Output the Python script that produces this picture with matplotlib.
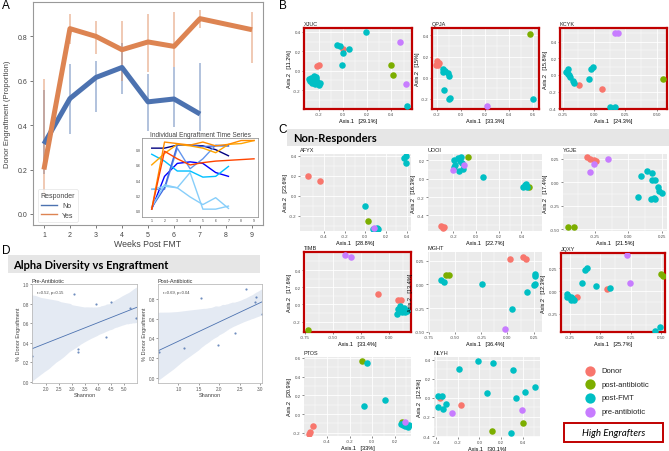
import matplotlib
matplotlib.use("Agg")
import matplotlib.pyplot as plt
from matplotlib.patches import Rectangle
from matplotlib.lines import Line2D
import numpy as np
import seaborn as sns

W, H = 669, 452
plt.rcParams['font.family'] = ['Liberation Sans', 'DejaVu Sans']

# ---- panel A: mean engraftment per responder group
weeks_no = [1, 2, 3, 4, 5, 6, 7]
eng_no = [0.315, 0.52, 0.615, 0.66, 0.505, 0.518, 0.45]
lo_no = [0.18, 0.36, 0.46, 0.54, 0.375, 0.39, 0.375]
hi_no = [0.56, 0.675, 0.69, 0.77, 0.63, 0.66, 0.68]
weeks_yes = [1, 2, 3, 4, 5, 6, 7, 9]
eng_yes = [0.20, 0.835, 0.80, 0.74, 0.775, 0.755, 0.88, 0.83]
lo_yes = [0.08, 0.765, 0.72, 0.60, 0.64, 0.66, 0.84, 0.68]
hi_yes = [0.61, 0.90, 0.87, 0.87, 0.90, 0.91, 0.92, 0.91]

# inset: individual time series (color, weeks, values)
ind_colors = ['navy', 'blue', 'deepskyblue', 'cornflowerblue', 'royalblue',
              'lightskyblue', 'lightskyblue', 'orange', 'darkorange', 'orangered']
ind_weeks = [[1, 2, 3, 4, 5, 6, 7], [1, 2, 3, 4, 5, 6, 7], [1, 2, 3, 4, 5, 6, 7],
             [1, 2, 3, 4, 5, 6, 7], [1, 2, 3, 4, 5, 6, 7], [1, 2, 3, 4, 5, 6, 7],
             [1, 2, 3, 4, 5, 6, 7], [1, 2, 3, 4, 5, 6, 7, 8, 9],
             [1, 2, 3, 4, 5, 6, 7, 8, 9], [1, 2, 3, 4, 5, 6, 7, 8, 9]]
ind_vals = [[0.82, 0.82, 0.86, 0.86, 0.85, 0.80, 0.72],
            [0.02, 0.45, 0.62, 0.64, 0.62, 0.50, 0.45],
            [0.74, 0.65, 0.52, 0.52, 0.44, 0.45, 0.58],
            [0.28, 0.28, 0.82, 0.55, 0.68, 0.86, 0.85],
            [0.04, 0.30, 0.86, 0.86, 0.84, 0.85, 0.85],
            [0.28, 0.32, 0.30, 0.50, 0.02, 0.02, 0.06],
            [0.05, 0.34, 0.30, 0.18, 0.08, 0.17, 0.03],
            [0.60, 0.75, 0.87, 0.85, 0.82, 0.76, 0.87, 0.88, 0.92],
            [0.02, 0.90, 0.88, 0.86, 0.90, 0.85, 0.87, 0.92, 0.92],
            [0.02, 0.78, 0.68, 0.60, 0.63, 0.65, 0.66, 0.67, 0.68]]

# ---- panel D: alpha diversity vs engraftment
pre_shannon = [1.48, 3.06, 3.25, 3.25, 3.93, 4.32, 4.50, 5.24, 5.47]
pre_eng = [0.267, 0.894, 0.337, 0.31, 0.80, 0.46, 0.817, 0.76, 0.65]
post_shannon = [0.52, 1.14, 1.55, 1.97, 2.39, 2.66, 2.87, 2.91, 3.05]
post_eng = [0.265, 0.30, 0.81, 0.33, 0.46, 0.90, 0.765, 0.82, 0.65]

# ---- panels B/C: PCoA coordinates per sample type
groups = ['Donor', 'post-antibiotic', 'post-FMT', 'pre-antibiotic']
gcol = {'Donor': '#F8766D', 'post-antibiotic': '#7CAE00',
        'post-FMT': '#00BFC4', 'pre-antibiotic': '#C77CFF'}

XJUC = {'Donor': [(-0.20, 0.06), (-0.21, 0.05), (0.0, 0.22)],
        'post-antibiotic': [(0.40, 0.06), (0.41, -0.04)],
        'post-FMT': [(-0.26, -0.08), (-0.24, -0.10), (-0.22, -0.06), (-0.21, -0.12),
                     (-0.25, -0.13), (-0.23, -0.14), (-0.20, -0.15), (-0.27, -0.11),
                     (-0.22, -0.09), (-0.19, -0.13), (-0.24, -0.05), (-0.28, -0.09),
                     (-0.05, 0.26), (0.19, 0.40), (-0.02, 0.25), (0.0, 0.18),
                     (0.05, 0.22), (-0.01, 0.06), (0.53, -0.36)],
        'pre-antibiotic': [(0.47, 0.30), (0.52, -0.14)]}
QPJA = {'Donor': [(-0.20, 0.16), (-0.19, 0.12), (-0.21, 0.12), (-0.18, 0.14)],
        'post-antibiotic': [(0.57, 0.41)],
        'post-FMT': [(-0.15, 0.08), (-0.15, 0.05), (-0.13, 0.06), (-0.11, 0.04),
                     (-0.10, 0.02), (-0.14, -0.12), (-0.10, -0.20), (-0.09, -0.19),
                     (0.60, -0.20)],
        'pre-antibiotic': [(0.215, -0.27)]}
KCYK = {'Donor': [(-0.12, -0.12), (0.06, -0.17)],
        'post-antibiotic': [(0.55, -0.05)],
        'post-FMT': [(-0.22, 0.03), (-0.21, 0.07), (-0.20, 0.0), (-0.19, -0.03),
                     (-0.17, -0.07), (-0.21, 0.01), (-0.16, -0.10), (-0.02, 0.07),
                     (-0.01, 0.09), (-0.04, -0.05), (0.13, -0.38), (0.17, -0.38)],
        'pre-antibiotic': [(0.17, 0.50), (0.19, 0.51)]}
AFYX = {'Donor': [(-0.55, 0.20), (-0.44, 0.15)],
        'post-antibiotic': [(0.03, -0.25)],
        'post-FMT': [(0.37, 0.38), (0.39, 0.40), (0.39, 0.33), (0.0, -0.10),
                     (0.07, -0.33), (0.09, -0.33), (0.11, -0.32), (0.12, -0.33),
                     (0.10, -0.34)],
        'pre-antibiotic': [(0.08, -0.32)]}
UOOI = {'Donor': [(-0.31, -0.52), (-0.29, -0.54), (-0.28, -0.53)],
        'post-antibiotic': [(-0.07, 0.24), (0.47, -0.09)],
        'post-FMT': [(-0.19, 0.20), (-0.16, 0.23), (-0.13, 0.24), (-0.14, 0.19),
                     (-0.18, 0.15), (-0.12, 0.17), (-0.11, 0.11), (-0.15, 0.09),
                     (-0.19, 0.13), (0.06, 0.02), (0.41, -0.09), (0.43, -0.07),
                     (0.45, -0.09), (0.44, -0.06)],
        'pre-antibiotic': [(-0.20, 0.10), (-0.10, 0.15)]}
YGJE = {'Donor': [(-0.31, 0.27), (-0.29, 0.25), (-0.26, 0.24), (-0.24, 0.23)],
        'post-antibiotic': [(-0.45, -0.48), (-0.41, -0.48)],
        'post-FMT': [(0.095, 0.07), (0.14, 0.12), (0.18, 0.10), (0.18, 0.025),
                     (0.20, 0.025), (0.22, -0.05), (0.23, -0.09), (0.25, -0.12),
                     (0.07, -0.16), (0.17, -0.18), (0.19, -0.17), (0.20, -0.18)],
        'pre-antibiotic': [(-0.26, 0.19), (-0.29, 0.11), (-0.15, 0.25)]}
TIMB = {'Donor': [(-0.10, 0.12), (0.08, 0.05), (0.11, 0.05)],
        'post-antibiotic': [(-0.72, -0.30)],
        'post-FMT': [(0.10, -0.02), (0.13, -0.04), (0.15, -0.06), (0.16, -0.08),
                     (0.11, -0.06), (0.08, -0.05), (0.14, -0.09), (0.07, -0.11),
                     (0.12, -0.09)],
        'pre-antibiotic': [(-0.39, 0.57), (-0.34, 0.55)]}
MGHT = {'Donor': [(0.02, 0.27), (0.15, 0.29), (0.18, 0.27)],
        'post-antibiotic': [(-0.59, 0.095), (-0.56, 0.095)],
        'post-FMT': [(-0.64, 0.05), (-0.61, 0.03), (-0.24, 0.0), (0.26, 0.11),
                     (0.26, 0.09), (0.26, 0.0), (0.255, -0.01), (0.19, -0.08),
                     (0.04, -0.26)],
        'pre-antibiotic': [(-0.02, -0.47)]}
JQXY = {'Donor': [(0.06, 0.02), (-0.19, -0.07)],
        'post-antibiotic': [(0.50, 0.19), (0.51, 0.17)],
        'post-FMT': [(-0.12, 0.23), (-0.11, 0.25), (-0.15, 0.09), (-0.03, 0.06),
                     (0.08, 0.03), (-0.27, -0.03), (-0.26, -0.05), (-0.24, -0.07),
                     (-0.23, -0.08), (-0.21, -0.10), (-0.24, -0.10), (-0.27, -0.06),
                     (0.45, -0.44), (0.49, -0.40)],
        'pre-antibiotic': [(0.22, 0.40), (0.24, 0.09)]}
PTOS = {'Donor': [(-0.52, -0.13), (-0.55, -0.19), (-0.56, -0.21)],
        'post-antibiotic': [(-0.09, 0.57), (0.26, -0.09)],
        'post-FMT': [(-0.05, 0.55), (-0.07, 0.09), (0.11, 0.155), (0.25, -0.11),
                     (0.27, -0.12), (0.29, -0.13), (0.31, -0.14), (0.28, -0.10),
                     (0.32, -0.12)],
        'pre-antibiotic': [(0.29, -0.09)]}
NLYH = {'Donor': [(-0.17, -0.07), (-0.36, 0.0)],
        'post-antibiotic': [(0.40, -0.26), (0.12, -0.35)],
        'post-FMT': [(-0.01, 0.39), (0.13, 0.37), (-0.19, 0.30), (0.31, 0.29),
                     (0.51, 0.12), (0.07, 0.055), (0.42, 0.06), (0.34, 0.0),
                     (-0.38, 0.02), (-0.35, 0.02), (-0.31, -0.06), (-0.38, -0.09),
                     (-0.34, -0.12), (0.29, -0.37)],
        'pre-antibiotic': [(-0.25, -0.16), (0.39, -0.13)]}

RED = '#C00000'


def box(x0, y0, x1, y1):
    return [x0 / W, 1 - y1 / H, (x1 - x0) / W, (y1 - y0) / H]


fig = plt.figure(figsize=(W / 100, H / 100), dpi=100)

# ================= A =================
ax = fig.add_axes(box(33, 3, 263, 226))
ax.plot(weeks_no, eng_no, color='#4C72B0', lw=3.6, solid_capstyle='butt', zorder=3)
ax.plot(weeks_yes, eng_yes, color='#DD8452', lw=3.6, solid_capstyle='butt', zorder=3)
ax.vlines(weeks_no, lo_no, hi_no, color='#4C72B0', lw=1.1, alpha=0.55, zorder=2)
ax.vlines(weeks_yes, lo_yes, hi_yes, color='#DD8452', lw=1.1, alpha=0.55, zorder=2)
ax.set_xlim(0.58, 9.42)
ax.set_ylim(-0.05, 0.955)
ax.set_xticks(range(1, 10))
ax.set_yticks([0.0, 0.2, 0.4, 0.6, 0.8])
ax.set_yticklabels(['0.0', '0.2', '0.4', '0.6', '0.8'])
ax.tick_params(labelsize=5, length=2, width=0.5, colors='#444444', pad=2)
for s in ax.spines.values():
    s.set_color('#999999')
    s.set_linewidth(0.8)
ax.set_xlabel('Weeks Post FMT', fontsize=6.3, color='#444444', labelpad=1)
ax.set_ylabel('Donor Engraftment (Proportion)', fontsize=5.5, color='#444444', labelpad=5)
hnd = [Line2D([], [], color='#4C72B0', lw=1), Line2D([], [], color='#DD8452', lw=1)]
leg = ax.legend(hnd, ['No', 'Yes'], title='Responder', loc='lower left',
                bbox_to_anchor=(0.005, 0.0), fontsize=5, title_fontsize=5,
                frameon=True, handlelength=2.2, borderpad=0.4, labelspacing=0.4)
leg.get_frame().set_edgecolor('#DDDDDD')
leg.get_frame().set_linewidth(0.5)
for t in leg.get_texts():
    t.set_color('#444444')
leg.get_title().set_color('#444444')

# inset
ins = fig.add_axes(box(142, 139, 258, 218))
for c, wk, v in zip(ind_colors, ind_weeks, ind_vals):
    ins.plot(wk, v, color=c, lw=1.0)
ins.set_xlim(0.24, 9.31)
ins.set_ylim(-0.083, 0.953)
ins.set_xticks(range(1, 10))
ins.set_yticks([0.0, 0.2, 0.4, 0.6, 0.8])
ins.set_yticklabels(['0.0', '0.2', '0.4', '0.6', '0.8'])
ins.tick_params(labelsize=2.5, length=0, colors='#444444', pad=1)
for s in ins.spines.values():
    s.set_color('#999999')
    s.set_linewidth(0.6)
ins.set_title('Individual Engraftment Time Series', fontsize=4.7, color='#444444', pad=1.5)

# ================= B / C =================
def pcoa(bx, title, pts, xlim, ylim, xt, yt, xdec, ydec, xl, yl, framed=False):
    a = fig.add_axes(box(*bx))
    a.set_facecolor('#EBEBEB')
    for g in groups:
        p = pts.get(g, [])
        if p:
            a.scatter([q[0] for q in p], [q[1] for q in p], s=22, color=gcol[g],
                      linewidths=0, zorder=3)
    a.set_xticks(xt)
    a.set_xticklabels([f'{v:.{xdec}f}' for v in xt])
    a.set_yticks(yt)
    a.set_yticklabels([f'{v:.{ydec}f}' for v in yt])
    a.set_xticks([(xt[i] + xt[i + 1]) / 2 for i in range(len(xt) - 1)]
                 + [xt[0] - (xt[1] - xt[0]) / 2, xt[-1] + (xt[1] - xt[0]) / 2], minor=True)
    a.set_yticks([(yt[i] + yt[i + 1]) / 2 for i in range(len(yt) - 1)]
                 + [yt[0] - (yt[1] - yt[0]) / 2, yt[-1] + (yt[1] - yt[0]) / 2], minor=True)
    a.set_xlim(*xlim)
    a.set_ylim(*ylim)
    a.grid(which='major', color='white', lw=0.6)
    a.grid(which='minor', color='white', lw=0.3)
    a.set_axisbelow(True)
    a.tick_params(which='major', labelsize=3.2, length=1.5, width=0.4, color='#333333',
                  labelcolor='#4D4D4D', pad=1)
    a.tick_params(which='minor', length=0)
    for s in a.spines.values():
        if framed:
            s.set_color(RED)
            s.set_linewidth(1.6)
        else:
            s.set_visible(False)
    a.set_xlabel(xl, fontsize=4, labelpad=1)
    a.set_ylabel(yl, fontsize=4, labelpad=1)
    a.set_title(title, fontsize=4, loc='left', pad=2, color='#222222')
    return a


pcoa((304, 29, 412, 110), 'XJUC', XJUC, (-0.32, 0.57), (-0.395, 0.44),
     [-0.2, 0.0, 0.2, 0.4], [-0.2, 0.0, 0.2, 0.4], 1, 1,
     'Axis.1   [29.1%]', 'Axis.2   [11.2%]', True)
pcoa((432, 29, 539, 110), 'QPJA', QPJA, (-0.24, 0.647), (-0.296, 0.47),
     [-0.2, 0.0, 0.2, 0.4, 0.6], [-0.2, 0.0, 0.2, 0.4], 1, 1,
     'Axis.1   [33.3%]', 'Axis.2   [15%]', True)
pcoa((560, 29, 667, 110), 'KCYK', KCYK, (-0.27, 0.58), (-0.41, 0.565),
     [-0.25, 0.0, 0.25, 0.5], [-0.4, -0.2, 0.0, 0.2, 0.4], 2, 1,
     'Axis.1   [24.3%]', 'Axis.2   [15.8%]', True)

pcoa((300, 155, 411, 232), 'AFYX', AFYX, (-0.63, 0.44), (-0.35, 0.42),
     [-0.4, -0.2, 0.0, 0.2, 0.4], [-0.2, 0.0, 0.2, 0.4], 1, 1,
     'Axis.1   [28.8%]', 'Axis.2   [23.6%]')
pcoa((428, 155, 542, 232), 'UOOI', UOOI, (-0.42, 0.58), (-0.57, 0.27),
     [-0.2, 0.0, 0.2, 0.4], [-0.4, -0.2, 0.0, 0.2], 1, 1,
     'Axis.1   [22.7%]', 'Axis.2   [16.3%]')
pcoa((563, 155, 667, 232), 'YGJE', YGJE, (-0.49, 0.29), (-0.52, 0.30),
     [-0.25, 0.0, 0.25], [-0.5, -0.25, 0.0, 0.25], 2, 2,
     'Axis.1   [21.5%]', 'Axis.2   [17.4%]')

pcoa((304, 253, 411, 333), 'TIMB', TIMB, (-0.76, 0.196), (-0.32, 0.61),
     [-0.75, -0.5, -0.25, 0.0], [-0.2, 0.0, 0.2, 0.4], 2, 1,
     'Axis.1   [33.4%]', 'Axis.2   [17.6%]', True)
pcoa((428, 253, 542, 333), 'MGHT', MGHT, (-0.76, 0.33), (-0.50, 0.34),
     [-0.75, -0.5, -0.25, 0.0, 0.25], [-0.5, -0.25, 0.0, 0.25], 2, 2,
     'Axis.1   [36.4%]', 'Axis.2   [13.4%]')
pcoa((561, 254, 665, 333), 'JQXY', JQXY, (-0.32, 0.53), (-0.45, 0.42),
     [-0.25, 0.0, 0.25, 0.5], [-0.25, 0.0, 0.25], 2, 2,
     'Axis.1   [25.7%]', 'Axis.2   [12.3%]', True)

pcoa((304, 358, 411, 437), 'PTOS', PTOS, (-0.6, 0.34), (-0.235, 0.61),
     [-0.4, -0.2, 0.0, 0.2], [-0.2, 0.0, 0.2, 0.4, 0.6], 1, 1,
     'Axis.1   [33%]', 'Axis.2   [20.9%]')
pcoa((434, 358, 540, 438), 'NLYH', NLYH, (-0.42, 0.56), (-0.41, 0.43),
     [-0.4, -0.2, 0.0, 0.2, 0.4], [-0.4, -0.2, 0.0, 0.2, 0.4], 1, 1,
     'Axis.1   [30.1%]', 'Axis.2   [12.5%]')

# legend for C
lg = fig.add_axes(box(580, 364, 669, 420))
lg.set_xlim(580, 669)
lg.set_ylim(420, 364)
lg.axis('off')
for i, g in enumerate(groups):
    yy = 371.7 + i * 13.6
    lg.scatter([590], [yy], s=55, color=gcol[g], linewidths=0)
    lg.text(601.5, yy, g, fontsize=5.5, va='center', ha='left', color='#222222')

# High Engrafters key
fig.patches.append(Rectangle((564 / W, 1 - 443 / H), 99 / W, 19 / H,
                             transform=fig.transFigure, fill=False,
                             edgecolor=RED, lw=1.4))
fig.text(613.5 / W, 1 - 433.5 / H, 'High Engrafters', fontsize=7, style='italic',
         ha='center', va='center', family=['Lato', 'DejaVu Sans'])

# strip for C
fig.patches.append(Rectangle((287 / W, 1 - 147 / H), (W - 287) / W, 17 / H,
                             transform=fig.transFigure, facecolor='#E6E6E6',
                             edgecolor='none', zorder=0))
fig.text(293 / W, 1 - 138.5 / H, 'Non-Responders', fontsize=8, fontweight='bold',
         ha='left', va='center', family=['Lato', 'DejaVu Sans'])

# ================= D =================
fig.patches.append(Rectangle((8 / W, 1 - 274 / H), 252 / W, 18 / H,
                             transform=fig.transFigure, facecolor='#E6E6E6',
                             edgecolor='none', zorder=0))
fig.text(13 / W, 1 - 265.5 / H, 'Alpha Diversity vs Engraftment', fontsize=8,
         fontweight='bold', ha='left', va='center', family=['Lato', 'DejaVu Sans'])


def regpanel(bx, xs, ys, xlim, ylim, xt, yt, title, note):
    a = fig.add_axes(box(*bx))
    a.set_xlim(*xlim)
    a.set_ylim(*ylim)
    sns.regplot(x=np.array(xs), y=np.array(ys), ax=a, truncate=False, ci=95, seed=1,
                color='#4C72B0', scatter_kws={'s': 2.5, 'linewidths': 0},
                line_kws={'lw': 0.6})
    a.set_xlim(*xlim)
    a.set_ylim(*ylim)
    a.set_xticks(xt)
    a.set_xticklabels([f'{v:.1f}' for v in xt])
    a.set_yticks(yt)
    a.set_yticklabels([f'{v:.1f}' for v in yt])
    a.tick_params(labelsize=3.3, length=1.2, width=0.4, colors='#555555', pad=1)
    for s in a.spines.values():
        s.set_color('#BBBBBB')
        s.set_linewidth(0.6)
    a.set_xlabel('Shannon', fontsize=4, labelpad=1, color='#444444')
    a.set_ylabel('% Donor Engraftment', fontsize=4, labelpad=1, color='#444444')
    a.set_title(title, fontsize=4, loc='left', pad=1.5, color='#333333')
    a.text(0.05, 0.94, note, transform=a.transAxes, fontsize=3, color='#444444',
           va='top', ha='left')


regpanel((32, 285, 137, 384), pre_shannon, pre_eng, (1.47, 5.49), (-0.01, 1.0),
         [2.0, 2.5, 3.0, 3.5, 4.0, 4.5, 5.0], [0.0, 0.2, 0.4, 0.6, 0.8, 1.0],
         'Pre-Antibiotic', 'r=0.52, p=0.15')
regpanel((158, 285, 262, 384), post_shannon, post_eng, (0.5, 3.05), (-0.05, 0.95),
         [1.0, 1.5, 2.0, 2.5, 3.0], [0.0, 0.2, 0.4, 0.6, 0.8],
         'Post-Antibiotic', 'r=0.69, p=0.04')

# panel letters
for lab, x, y in [('A', 2, 6), ('B', 279, 6), ('C', 278, 130), ('D', 2, 251)]:
    fig.text(x / W, 1 - y / H, lab, fontsize=8.5, ha='left', va='center')

fig.savefig('out.png', dpi=100)
